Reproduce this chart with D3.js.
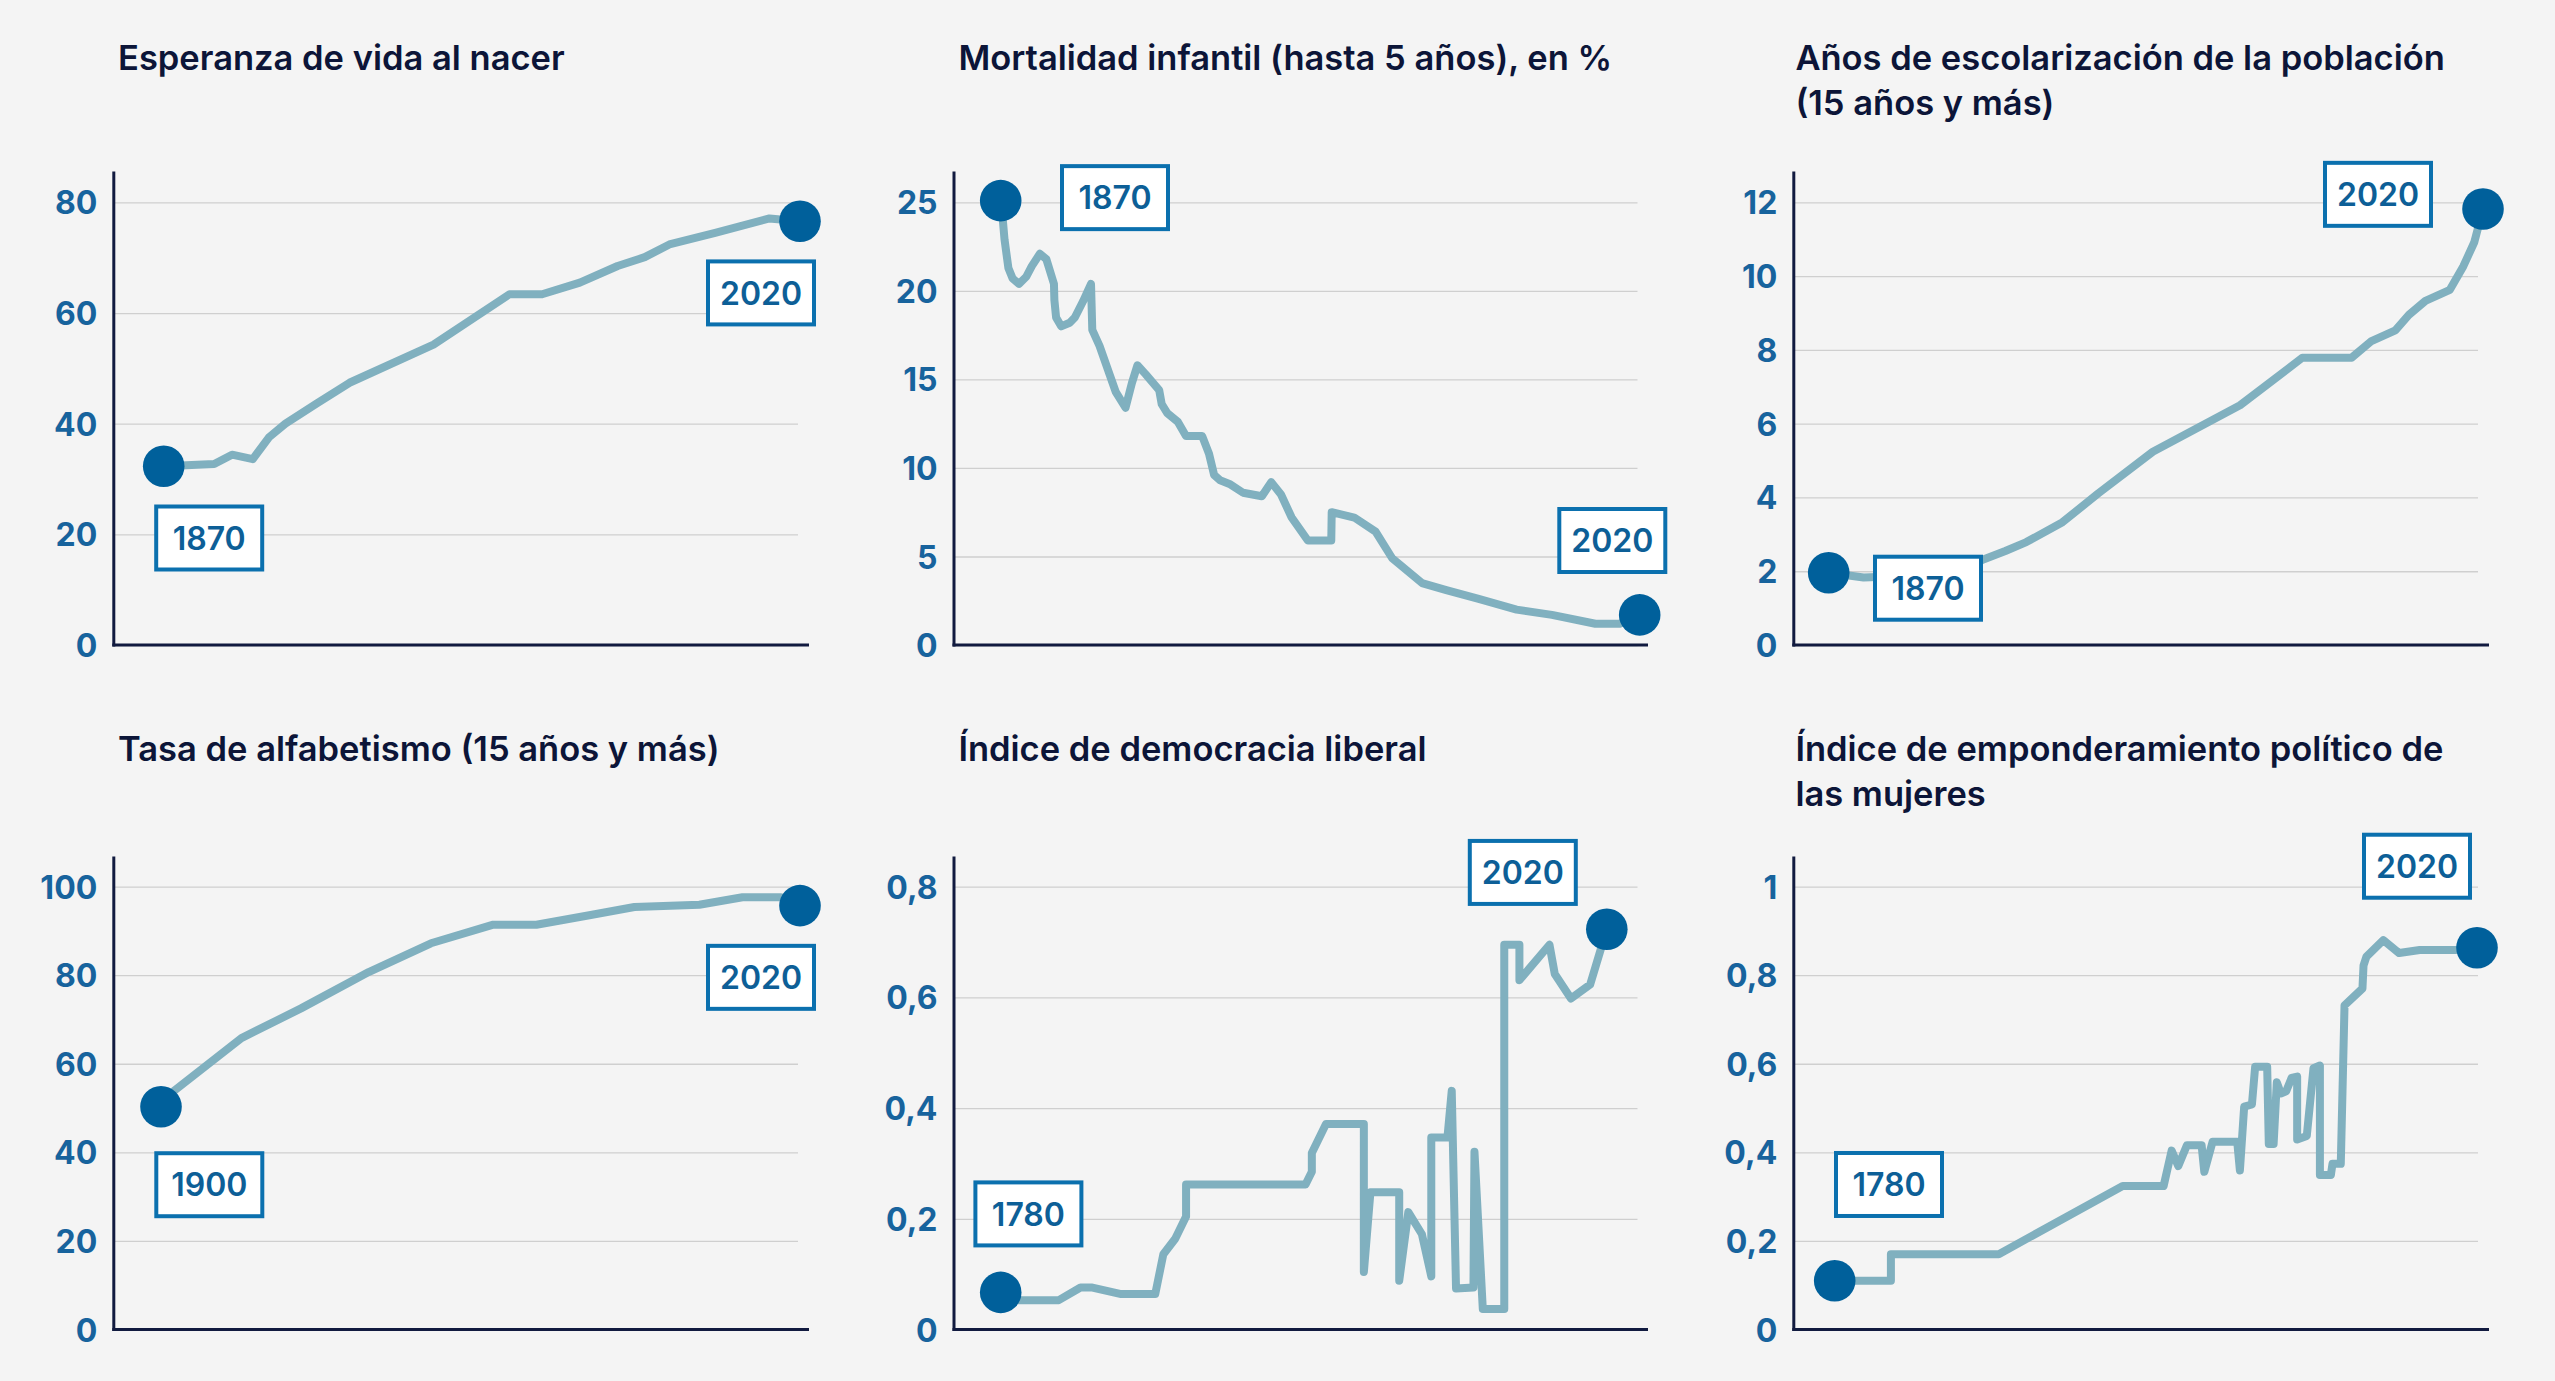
<!DOCTYPE html>
<html><head><meta charset="utf-8">
<script src="https://cdn.jsdelivr.net/npm/d3@7"></script>
<style>
html,body{margin:0;padding:0;background:#f4f4f4;}
svg{display:block;}
text{font-family:Inter,"Noto Sans",sans-serif;}
</style></head>
<body>
<svg id="chart" width="2555" height="1381"></svg>
<script>
// ---------- DATA ----------
const titles = [
  ["Esperanza de vida al nacer"],
  ["Mortalidad infantil (hasta 5 años), en %"],
  ["Años de escolarización de la población", "(15 años y más)"],
  ["Tasa de alfabetismo (15 años y más)"],
  ["Índice de democracia liberal"],
  ["Índice de emponderamiento político de", "las mujeres"]
];

const ticksVida = [0, 20, 40, 60, 80];
const ticksMortalidad = [0, 5, 10, 15, 20, 25];
const ticksEscolarizacion = [0, 2, 4, 6, 8, 10, 12];
const ticksAlfabetismo = [0, 20, 40, 60, 80, 100];
const ticksDemocracia = [0, 0.2, 0.4, 0.6, 0.8];
const ticksMujeres = [0, 0.2, 0.4, 0.6, 0.8, 1];

const esperanzaVida = [
  [1870, 32.3], [1881.9, 32.7], [1886.1, 34.4], [1891, 33.6], [1894.9, 37.6], [1898.7, 40.0],
  [1906.2, 43.7], [1913.8, 47.4], [1933.6, 54.3], [1951.5, 63.4], [1959.2, 63.4], [1968.1, 65.5],
  [1977, 68.5], [1983.4, 70.1], [1989.2, 72.4], [2000, 74.5], [2012.8, 77.1], [2020, 76.6]
];

const mortalidadInfantil = [
  [1870, 25.1], [1870.5, 24.0], [1870.9, 22.9], [1871.8, 21.3], [1872.8, 20.7], [1874.3, 20.4],
  [1876, 20.8], [1877.3, 21.4], [1879.2, 22.1], [1880.7, 21.8], [1882.5, 20.4], [1882.6, 19.5],
  [1883, 18.5], [1884.2, 18.0], [1886.2, 18.2], [1887.4, 18.5], [1889.3, 19.4], [1891.2, 20.4],
  [1891.5, 17.8], [1893.2, 16.9], [1895.1, 15.6], [1897, 14.3], [1899.3, 13.4], [1900.8, 14.8],
  [1902.1, 15.8], [1904, 15.3], [1907.2, 14.4], [1907.8, 13.6], [1909.1, 13.1], [1911.6, 12.6],
  [1913.5, 11.8], [1917.3, 11.8], [1918.9, 10.8], [1920.1, 9.6], [1921.5, 9.3], [1923.7, 9.1],
  [1926.9, 8.6], [1931.3, 8.4], [1933.5, 9.2], [1935.8, 8.5], [1938.3, 7.2], [1942.1, 5.9],
  [1947.6, 5.9], [1947.7, 7.5], [1953, 7.2], [1958, 6.4], [1961.9, 4.9], [1968.9, 3.5],
  [1974.6, 3.1], [1982.2, 2.6], [1991.1, 2.0], [1999.4, 1.7], [2009.6, 1.2], [2015.3, 1.2],
  [2020, 1.7]
];

const escolarizacion = [
  [1870, 1.96], [1878, 1.83], [1893, 1.9], [1905.3, 2.31], [1910.5, 2.55], [1915.3, 2.79],
  [1923.6, 3.33], [1931.8, 4.11], [1944.3, 5.24], [1964.3, 6.5], [1978.6, 7.79], [1989.9, 7.79],
  [1994.3, 8.23], [1999.9, 8.53], [2003, 8.95], [2006.8, 9.33], [2012.4, 9.63], [2015.5, 10.27],
  [2018, 10.92], [2020, 11.82]
];

const alfabetismo = [
  [1900, 50.3], [1901.3, 52.8], [1915.1, 65.8], [1926.3, 72.5], [1939, 80.7], [1950.7, 87.2],
  [1962.4, 91.4], [1970.5, 91.4], [1980.7, 93.6], [1988.9, 95.4], [2001.1, 95.9], [2009.2, 97.6],
  [2016.4, 97.6], [2020, 95.7]
];

const democraciaLiberal = [
  [1780, 0.067], [1785.8, 0.053], [1803, 0.053], [1811.6, 0.076], [1815.9, 0.076], [1827.7, 0.064],
  [1841.2, 0.064], [1844.4, 0.136], [1849.1, 0.164], [1853.4, 0.204], [1853.4, 0.262], [1900.7, 0.262],
  [1903.2, 0.285], [1903.2, 0.319], [1908.8, 0.371], [1923.8, 0.371], [1923.8, 0.104], [1926.4, 0.248],
  [1937.8, 0.248], [1937.8, 0.088], [1941.4, 0.212], [1946.8, 0.172], [1950.5, 0.096], [1950.5, 0.347],
  [1956.9, 0.347], [1958.6, 0.431], [1960.3, 0.074], [1967.2, 0.076], [1967.6, 0.321], [1970.9, 0.037],
  [1979.4, 0.037], [1979.4, 0.695], [1985.4, 0.695], [1985.4, 0.631], [1997.3, 0.695], [1999.4, 0.642],
  [2005.8, 0.598], [2013.4, 0.623], [2020, 0.723]
];

const empoderamientoMujeres = [
  [1780, 0.110], [1801, 0.110], [1801, 0.170], [1841.3, 0.170], [1887.6, 0.324], [1902.9, 0.324],
  [1905.9, 0.404], [1908.4, 0.369], [1911.6, 0.416], [1917.1, 0.416], [1918.1, 0.356], [1921.2, 0.424],
  [1930.4, 0.424], [1931.4, 0.359], [1933, 0.503], [1935.9, 0.508], [1937.1, 0.593], [1941.6, 0.593],
  [1942.2, 0.419], [1944, 0.419], [1945.2, 0.558], [1946.7, 0.533], [1948.7, 0.538], [1950.7, 0.568],
  [1952.8, 0.571], [1952.8, 0.429], [1956.4, 0.437], [1958.9, 0.590], [1961.3, 0.596], [1961.3, 0.349],
  [1965.4, 0.349], [1966, 0.374], [1969.1, 0.374], [1970.5, 0.732], [1977.2, 0.770], [1977.6, 0.822],
  [1978.7, 0.842], [1985, 0.879], [1990.9, 0.850], [1998.6, 0.857], [2011.9, 0.857], [2020, 0.862]
];

// ---------- LAYOUT ----------
const colAxisX   = [113.8, 954, 1793.8];
const colGridEnd = [798, 1637.5, 2478];
const colAxisEnd = [809, 1648, 2489];
const colTitleX  = [118, 958.4, 1795.4];
const rowTopY    = [202.4, 886.6];
const rowZeroY   = [645, 1329.5];
const rowAxisTop = [171.6, 856.6];
const rowTitleY  = [70.4, 760.5];

const panels = [
  {title: titles[0], data: esperanzaVida,        ticks: ticksVida,           col: 0, row: 0, xr: [163.7, 800],   boxes: [[45.5, 71.7], [-39, 71.7]]},
  {title: titles[1], data: mortalidadInfantil,   ticks: ticksMortalidad,     col: 1, row: 0, xr: [1000.7, 1639.7], boxes: [[114.3, -3], [-27.4, -74.4]]},
  {title: titles[2], data: escolarizacion,       ticks: ticksEscolarizacion, col: 2, row: 0, xr: [1828.7, 2483], boxes: [[99.3, 15.5], [-105, -14.7]]},
  {title: titles[3], data: alfabetismo,          ticks: ticksAlfabetismo,    col: 0, row: 1, xr: [161, 800],     boxes: [[48.3, 78], [-39, 71.7]]},
  {title: titles[4], data: democraciaLiberal,    ticks: ticksDemocracia,     col: 1, row: 1, xr: [1000.7, 1606.8], boxes: [[27.7, -78.5], [-84, -56.8]]},
  {title: titles[5], data: empoderamientoMujeres, ticks: ticksMujeres,       col: 2, row: 1, xr: [1834.7, 2477], boxes: [[54.3, -96.3], [-60, -81.5]]}
];

const COL_TITLE = "#0c1538";
const COL_TICK = "#17639d";
const COL_AXIS = "#111a3f";
const COL_GRID = "#cfcfcf";
const COL_LINE = "#80b0bf";
const COL_DOT = "#00609b";
const COL_BOX = "#0b70ae";
const COL_BOXTXT = "#0d5f97";

const fmt = d3.formatLocale({decimal: ",", thousands: ".", grouping: [3], currency: ["", "€"]}).format("~g");

const svg = d3.select("#chart");
svg.append("rect").attr("width", 2555).attr("height", 1381).attr("fill", "#f4f4f4");

panels.forEach(p => {
  const g = svg.append("g");
  const axisX = colAxisX[p.col];
  const zeroY = rowZeroY[p.row];
  const topY = rowTopY[p.row];
  const maxTick = d3.max(p.ticks);

  const x = d3.scaleLinear().domain(d3.extent(p.data, d => d[0])).range(p.xr);
  const y = d3.scaleLinear().domain([0, maxTick]).range([zeroY, topY]);

  // title
  const t = g.append("text")
    .attr("x", colTitleX[p.col]).attr("y", rowTitleY[p.row])
    .attr("fill", COL_TITLE).attr("font-size", 34.5).attr("font-weight", 600);
  p.title.forEach((line, i) => {
    t.append("tspan").attr("x", colTitleX[p.col]).attr("dy", i === 0 ? 0 : 45).text(line);
  });

  // y axis with gridlines
  const yAxis = d3.axisLeft(y).tickValues(p.ticks).tickFormat(fmt)
    .tickSize(-(colGridEnd[p.col] - axisX)).tickPadding(16.5);
  const ag = g.append("g").attr("transform", `translate(${axisX},0)`).call(yAxis);
  ag.select(".domain").remove();
  ag.selectAll(".tick line").attr("stroke", COL_GRID).attr("stroke-width", 1.3);
  ag.selectAll(".tick text")
    .attr("fill", COL_TICK).attr("font-size", 32).attr("font-weight", 700)
    .attr("font-family", "Inter, sans-serif").attr("dy", "0.36em");

  // line
  const line = d3.line().x(d => x(d[0])).y(d => y(d[1]));
  g.append("path").datum(p.data)
    .attr("d", line).attr("fill", "none")
    .attr("stroke", COL_LINE).attr("stroke-width", 8)
    .attr("stroke-linejoin", "round").attr("stroke-linecap", "butt");

  // axis lines
  g.append("line").attr("x1", axisX).attr("x2", axisX)
    .attr("y1", rowAxisTop[p.row]).attr("y2", zeroY + 1.5)
    .attr("stroke", COL_AXIS).attr("stroke-width", 3);
  g.append("line").attr("x1", axisX - 1.5).attr("x2", colAxisEnd[p.col])
    .attr("y1", zeroY).attr("y2", zeroY)
    .attr("stroke", COL_AXIS).attr("stroke-width", 3);

  // endpoints
  const ends = [p.data[0], p.data[p.data.length - 1]];
  g.selectAll("circle.end").data(ends).join("circle")
    .attr("class", "end")
    .attr("cx", d => x(d[0])).attr("cy", d => y(d[1])).attr("r", 20.8)
    .attr("fill", COL_DOT);

  // year boxes
  ends.forEach((d, i) => {
    const cx = x(d[0]) + p.boxes[i][0];
    const cy = y(d[1]) + p.boxes[i][1];
    g.append("rect")
      .attr("x", cx - 53).attr("y", cy - 31.5).attr("width", 106).attr("height", 63)
      .attr("fill", "#ffffff").attr("stroke", COL_BOX).attr("stroke-width", 4);
    g.append("text")
      .attr("x", cx).attr("y", cy + 11.6).attr("text-anchor", "middle")
      .attr("fill", COL_BOXTXT).attr("font-size", 32).attr("font-weight", 600)
      .text(Math.round(d[0]));
  });
});
</script>
</body></html>
